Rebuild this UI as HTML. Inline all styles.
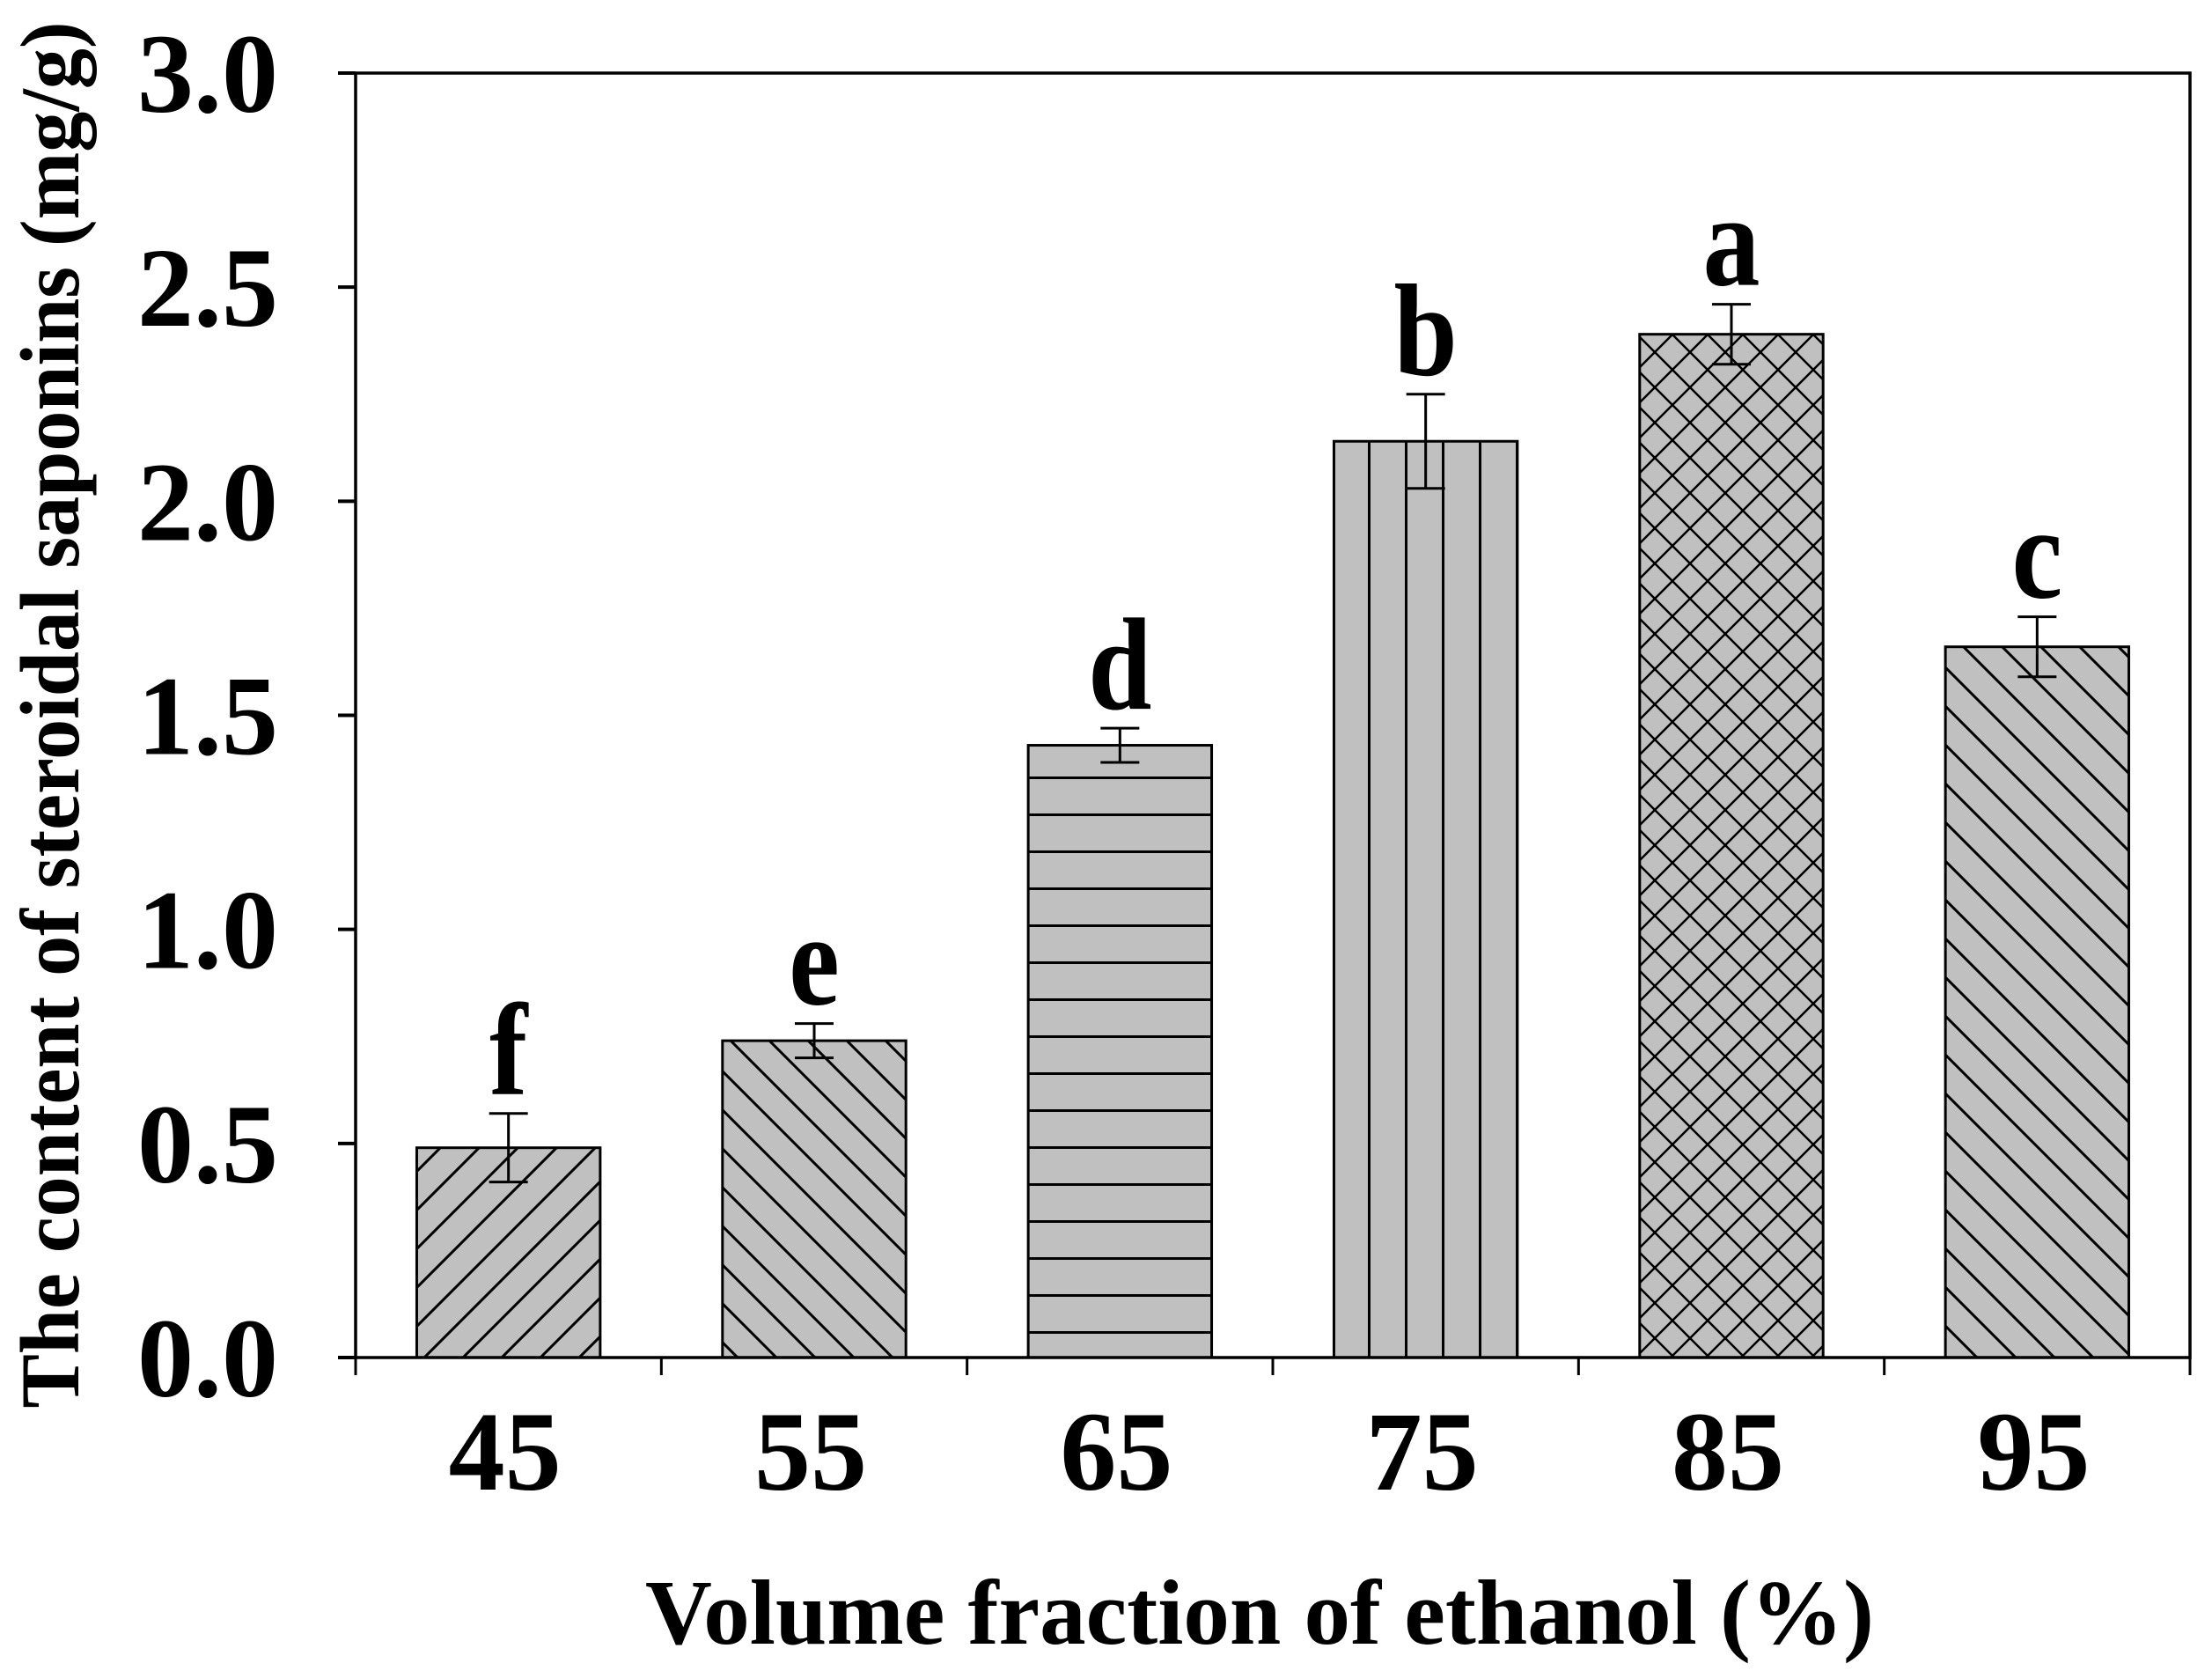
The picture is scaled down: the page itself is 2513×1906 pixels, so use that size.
<!DOCTYPE html>
<html><head><meta charset="utf-8"><style>
html,body{margin:0;padding:0;background:#fff;}
svg{display:block;font-family:"Liberation Serif",serif;font-weight:bold;}
</style></head><body>
<svg id="chart" width="2513" height="1906" viewBox="0 0 2513 1906" xmlns="http://www.w3.org/2000/svg">
<defs>
<pattern id="p-fwd" patternUnits="userSpaceOnUse" width="44" height="44"><rect width="44" height="44" fill="#c0c0c0"/><path d="M-11,11 L11,-11 M0,44 L44,0 M33,55 L55,33" stroke="#000" stroke-width="3"/></pattern>
<pattern id="p-back" patternUnits="userSpaceOnUse" width="44" height="44"><rect width="44" height="44" fill="#c0c0c0"/><path d="M-11,33 L11,55 M0,0 L44,44 M33,-11 L55,11" stroke="#000" stroke-width="3"/></pattern>
<pattern id="p-horiz" patternUnits="userSpaceOnUse" width="42" height="42"><rect width="42" height="42" fill="#c0c0c0"/><path d="M0,1.5 L42,1.5" stroke="#000" stroke-width="3"/></pattern>
<pattern id="p-vert" patternUnits="userSpaceOnUse" width="42" height="42"><rect width="42" height="42" fill="#c0c0c0"/><path d="M1.5,0 L1.5,42" stroke="#000" stroke-width="3"/></pattern>
<pattern id="p-cross" patternUnits="userSpaceOnUse" width="40" height="40"><rect width="40" height="40" fill="#c0c0c0"/><path d="M0,0 L40,40 M0,40 L40,0 M-20,20 L0,40 M20,-20 L60,20 M-20,20 L20,-20 M20,60 L60,20" stroke="#000" stroke-width="2.5"/></pattern>
</defs>
<g id="plot"></g>
</svg>
<script>
const categories = ["45","55","65","75","85","95"];
const values = [0.49, 0.74, 1.43, 2.14, 2.39, 1.66];
const errors = [0.08, 0.04, 0.04, 0.11, 0.07, 0.07];
const letters = ["f","e","d","b","a","c"];
const patterns = ["p-fwd","p-back","p-horiz","p-vert","p-cross","p-back"];
const yTicks = [0.0, 0.5, 1.0, 1.5, 2.0, 2.5, 3.0];
const yTickLabels = ["0.0","0.5","1.0","1.5","2.0","2.5","3.0"];

const NS = "http://www.w3.org/2000/svg";
const X0 = 404, X1 = 2488, Y0 = 1542, Y1 = 83, YMAX = 3.0;
const band = (X1 - X0) / categories.length;
function xScale(i){ return X0 + band * (i + 0.5); }
function yScale(v){ return Y0 - (v / YMAX) * (Y0 - Y1); }
const g = document.getElementById('plot');
function mk(tag, attrs){ const e = document.createElementNS(NS, tag); for (const k in attrs) e.setAttribute(k, attrs[k]); g.appendChild(e); return e; }
function txt(x, y, sy, size, anchor, s){ const t = mk('text', {x: 0, y: 0, 'text-anchor': anchor, 'font-size': size, transform: `translate(${x},${y}) scale(1,${sy})`}); t.textContent = s; return t; }

const bw = band * 0.6;
categories.forEach((c, i) => {
  const x = xScale(i) - bw / 2, y = yScale(values[i]);
  const r = mk('rect', {x: x, y: y, width: bw, height: Y0 - y, fill: 'url(#' + patterns[i] + ')', stroke: '#000', 'stroke-width': 3});
  
  
  const cx = xScale(i), yt = yScale(values[i] + errors[i]), yb = yScale(values[i] - errors[i]);
  const eb = mk('path', {d: `M${cx},${yt} L${cx},${yb} M${cx-22},${yt} L${cx+22},${yt} M${cx-22},${yb} L${cx+22},${yb}`, stroke: '#000', 'stroke-width': 3, fill: 'none'});
  
  
  const t = txt(cx, yt - 22, 1.15, 130, 'middle', letters[i]);
  
  
  const xl = txt(cx - 4, 1692, 1, 128, 'middle', c);
  
  
});
const fr = mk('rect', {x: X0, y: Y1, width: X1 - X0, height: Y0 - Y1, fill: 'none', stroke: '#000', 'stroke-width': 3.5});


yTicks.forEach((v, i) => {
  const y = yScale(v);
  const tk = mk('line', {x1: X0 - 20, x2: X0, y1: y, y2: y, stroke: '#000', 'stroke-width': 4});
  
  
  const lb = txt(316, y + 44, 1, 128, 'end', yTickLabels[i]);
  
  
});
for (let i = 0; i <= categories.length; i++) {
  const x = X0 + band * i;
  const tk = mk('line', {x1: x, x2: x, y1: Y0, y2: Y0 + 20, stroke: '#000', 'stroke-width': 3});
  
  
}
const xt = txt(1431, 1867, 1, 105, 'middle', 'Volume fraction of ethanol (%)');


const yt = mk('text', {x: 0, y: 0, 'text-anchor': 'middle', 'font-size': 95, textLength: 1575, lengthAdjust: 'spacingAndGlyphs', transform: 'translate(89,812) rotate(-90)'});
yt.textContent = 'The content of steroidal saponins (mg/g)';


</script>
</body></html>
